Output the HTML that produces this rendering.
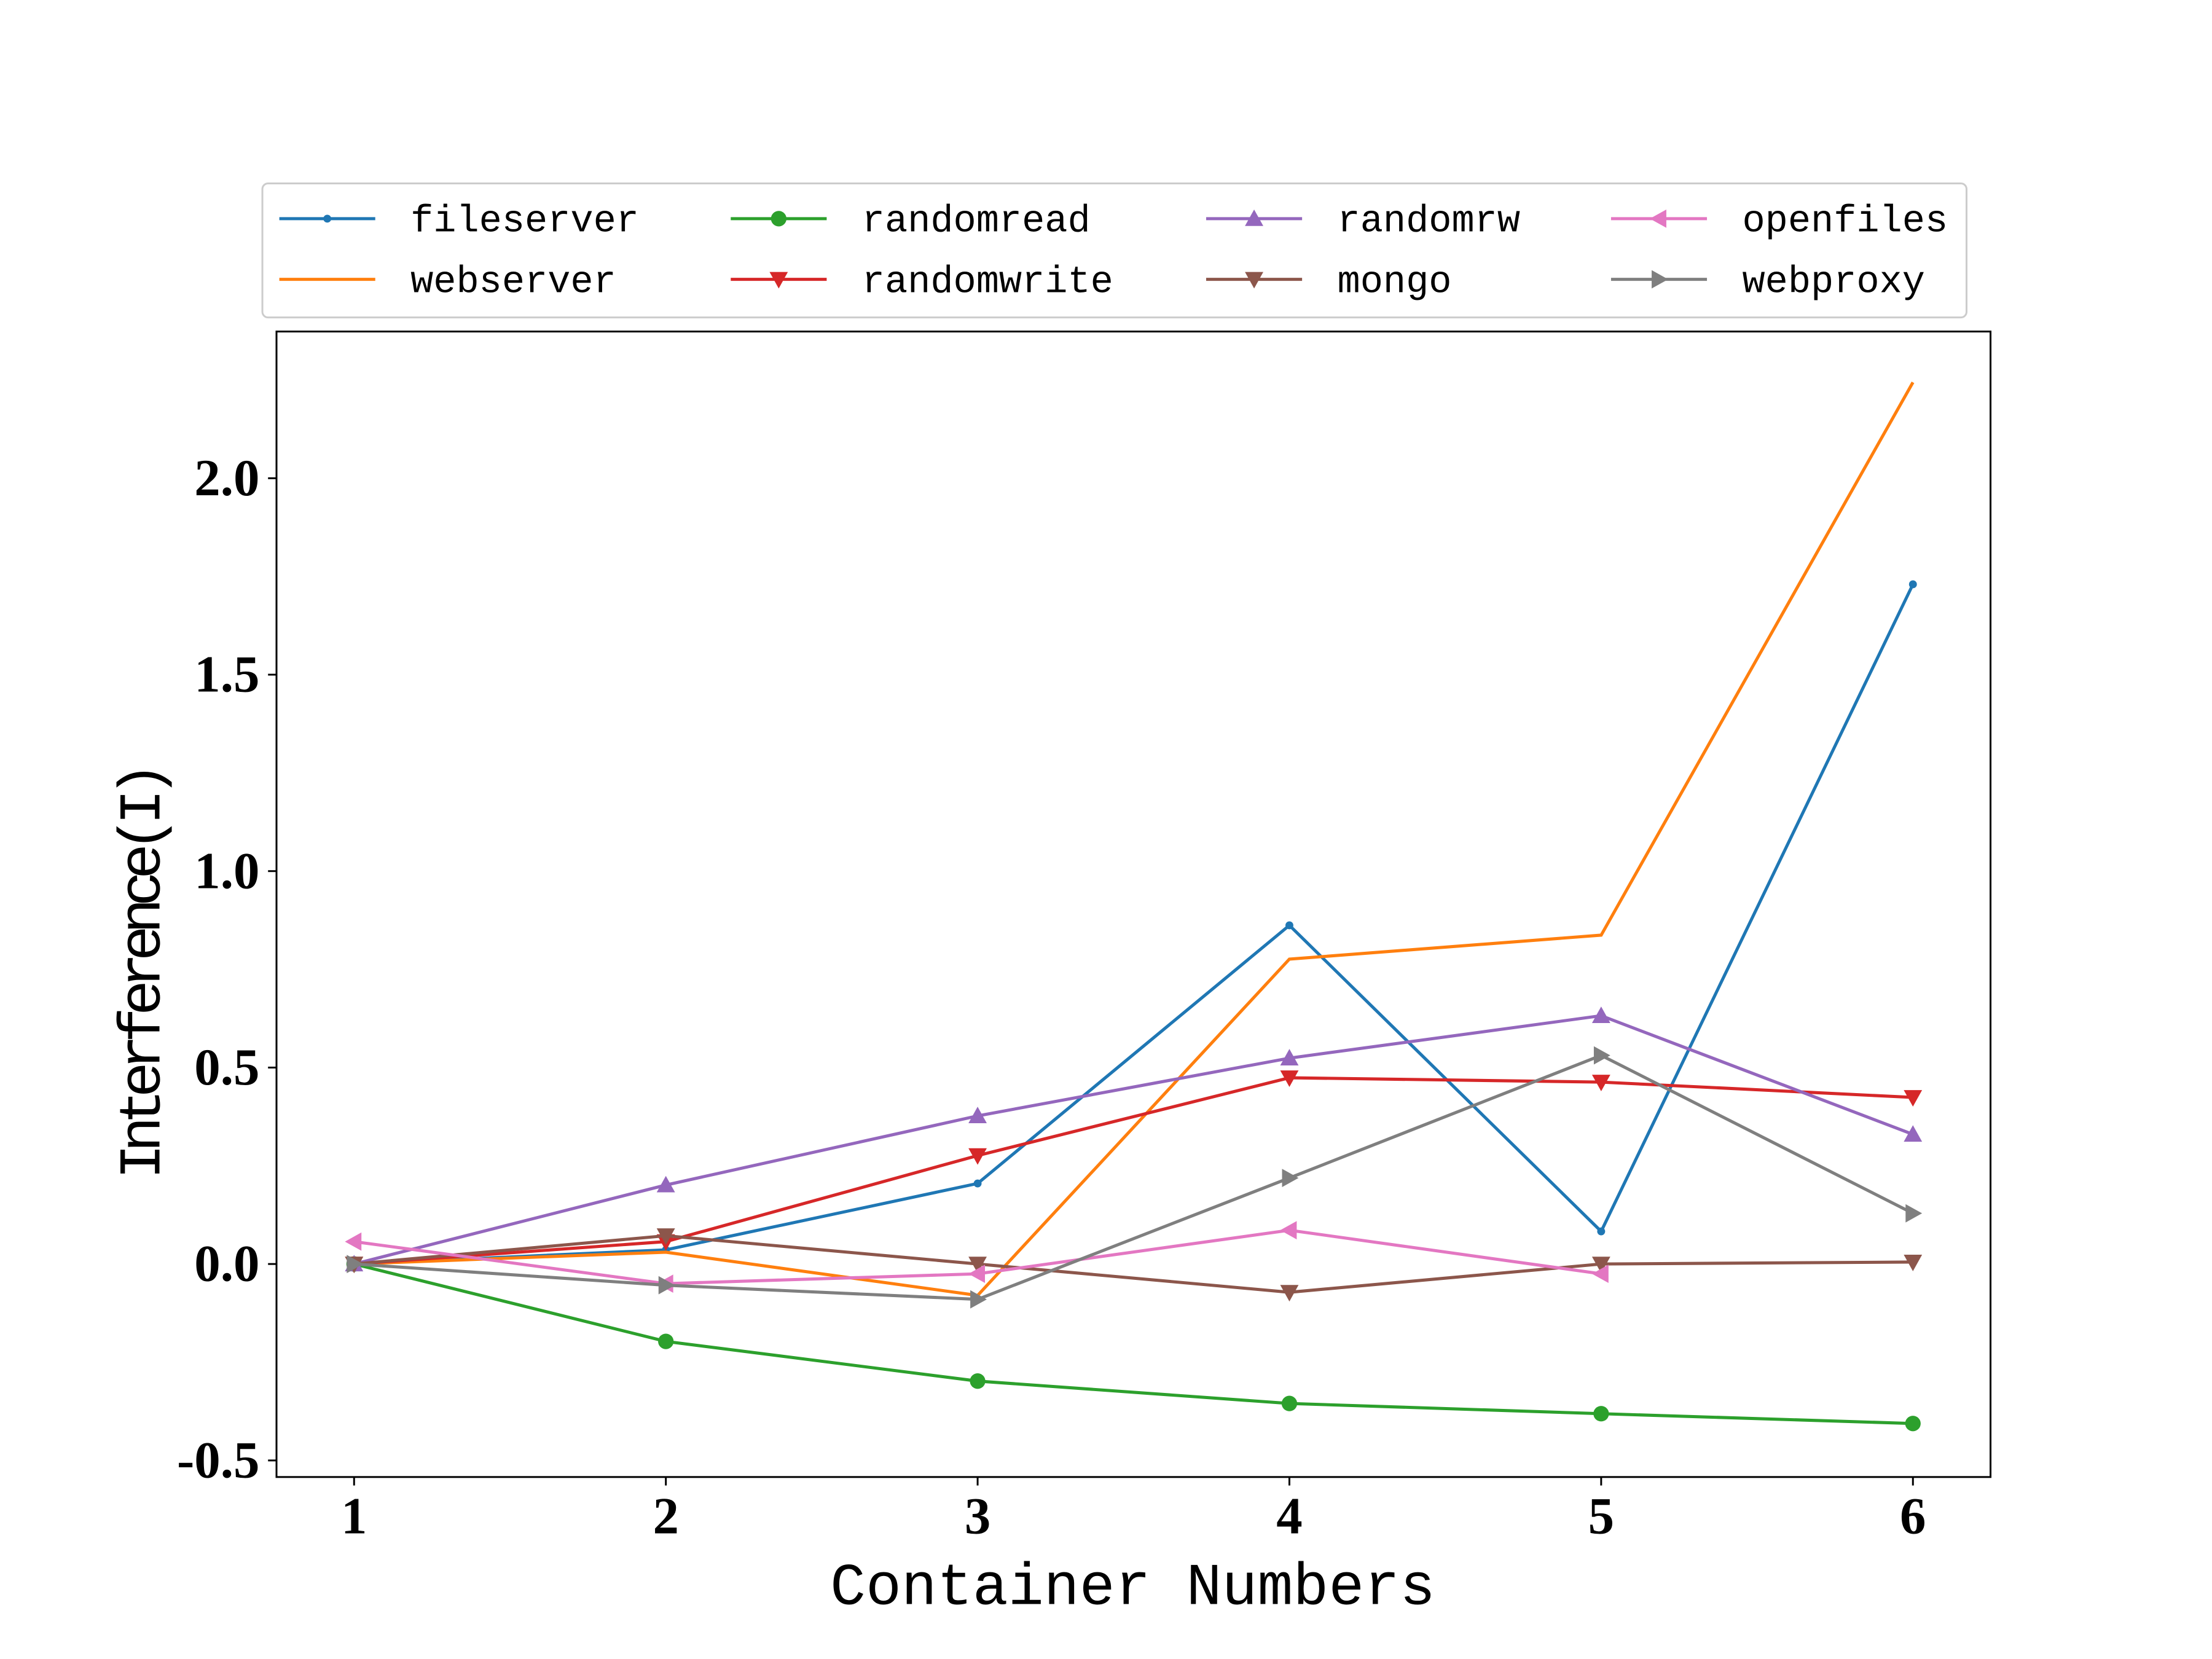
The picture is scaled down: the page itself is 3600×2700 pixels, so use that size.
<!DOCTYPE html>
<html><head><meta charset="utf-8"><style>html,body{margin:0;padding:0;background:#fff}svg{display:block}</style></head>
<body>
<svg id="chart" width="3600" height="2700" viewBox="0 0 1568 1176" xmlns="http://www.w3.org/2000/svg">
<rect width="1568" height="1176" fill="#fff"/>
<g id="plot"></g>
<g id="legend"></g>
</svg>
<script>
const categories = [1, 2, 3, 4, 5, 6];
const fileserver = [0, 0.036, 0.205, 0.862, 0.083, 1.73];
const webserver = [0, 0.03, -0.08, 0.776, 0.837, 2.244];
const randomread = [0, -0.197, -0.298, -0.355, -0.381, -0.406];
const randomwrite = [0, 0.057, 0.276, 0.474, 0.463, 0.424];
const randomrw = [0, 0.201, 0.377, 0.524, 0.632, 0.33];
const mongo = [0, 0.072, 0.0, -0.072, 0.0, 0.005];
const openfiles = [0.057, -0.05, -0.025, 0.086, -0.025];
const webproxy = [0, -0.054, -0.09, 0.219, 0.531, 0.129];
const yTicks = [-0.5, 0.0, 0.5, 1.0, 1.5, 2.0];
const yTickLabels = ["-0.5", "0.0", "0.5", "1.0", "1.5", "2.0"];
const seriesNames = ["fileserver","webserver","randomread","randomwrite","randomrw","mongo","openfiles","webproxy"];

const NS = "http://www.w3.org/2000/svg";
const L = 196, R = 1411, T = 235, B = 1047;
const xs = v => 251 + (v - 1) * 221;
const ys = v => 896 - v * 278.5;
function mk(tag, attrs, parent) { const e = document.createElementNS(NS, tag); for (const k in attrs) e.setAttribute(k, attrs[k]); parent.appendChild(e); return e; }
const plot = document.getElementById('plot');
const leg = document.getElementById('legend');

const series = [
 {name:"fileserver", data:fileserver, color:"#1f77b4", m:"dot"},
 {name:"webserver", data:webserver, color:"#ff7f0e", m:"none"},
 {name:"randomread", data:randomread, color:"#2ca02c", m:"circle"},
 {name:"randomwrite", data:randomwrite, color:"#d62728", m:"down"},
 {name:"randomrw", data:randomrw, color:"#9467bd", m:"up"},
 {name:"mongo", data:mongo, color:"#8c564b", m:"down"},
 {name:"openfiles", data:openfiles, color:"#e377c2", m:"left"},
 {name:"webproxy", data:webproxy, color:"#7f7f7f", m:"right"}
];
function marker(g, m, x, y, c) {
  const s = 6.5;
  let pts = null;
  if (m === "dot") return mk('circle', {cx:x, cy:y, r:2.8, fill:c}, g);
  if (m === "circle") return mk('circle', {cx:x, cy:y, r:5.5, fill:c}, g);
  if (m === "up") pts = [[x,y-s],[x-s,y+s*0.8],[x+s,y+s*0.8]];
  if (m === "down") pts = [[x,y+s],[x-s,y-s*0.8],[x+s,y-s*0.8]];
  if (m === "left") pts = [[x-s,y],[x+s*0.8,y-s],[x+s*0.8,y+s]];
  if (m === "right") pts = [[x+s,y],[x-s*0.8,y-s],[x-s*0.8,y+s]];
  if (pts) return mk('polygon', {points: pts.map(p=>p.join(',')).join(' '), fill:c}, g);
}
series.forEach(s => {
  const g = mk('g', {}, plot);
  
  
  const p = mk('polyline', {points: s.data.map((v,i)=>xs(categories[i])+','+ys(v)).join(' '), fill:'none', stroke:s.color, 'stroke-width':2.2}, g);
  
  
  s.data.forEach((v,i) => {
    const mm = marker(g, s.m, xs(categories[i]), ys(v), s.color);
    if (mm) {   }
  });
});
const frame = mk('rect', {x:L, y:T, width:R-L, height:B-T, fill:'none', stroke:'#000', 'stroke-width':1.3}, plot);


categories.forEach(c => {
  mk('line', {x1:xs(c), x2:xs(c), y1:B, y2:B+6, stroke:'#000', 'stroke-width':1.3}, plot);
  const t = mk('text', {x:xs(c), y:B+40, 'text-anchor':'middle', 'font-family':'Liberation Serif, serif', 'font-weight':'bold', 'font-size':37}, plot);
  t.textContent = c;
  
  
});
yTicks.forEach((v,i) => {
  mk('line', {x1:L-6, x2:L, y1:ys(v), y2:ys(v), stroke:'#000', 'stroke-width':1.3}, plot);
  const t = mk('text', {x:L-12, y:ys(v)+12, 'text-anchor':'end', 'font-family':'Liberation Serif, serif', 'font-weight':'bold', 'font-size':37}, plot);
  t.textContent = yTickLabels[i];
  
  
});
const xt = mk('text', {x:803, y:1137, 'text-anchor':'middle', 'font-family':'Liberation Mono, monospace', 'font-size':42, textLength:429}, plot);
xt.textContent = 'Container Numbers';


const yt = mk('text', {x:0, y:0, 'text-anchor':'middle', 'font-family':'Liberation Mono, monospace', 'font-size':42, textLength:296, transform:'translate(113,688) rotate(-90)'}, plot);
yt.textContent = 'Interference(I)';


const lbox = mk('rect', {x:186, y:130, width:1208, height:95, rx:4, fill:'#fff', stroke:'#ccc', 'stroke-width':1.3}, leg);


const colX = [198, 518, 855, 1142];
const rowY = [155, 198];
series.forEach((s, idx) => {
  const col = Math.floor(idx/2), row = idx % 2;
  const x = colX[col], y = rowY[row];
  const g = mk('g', {}, leg);
  
  
  mk('line', {x1:x, x2:x+68, y1:y, y2:y, stroke:s.color, 'stroke-width':2.2}, g);
  marker(g, s.m, x+34, y, s.color);
  const t = mk('text', {x:x+93, y:y+9, 'font-family':'Liberation Mono, monospace', 'font-size':27}, g);
  t.textContent = s.name;
});
</script>
</body></html>
